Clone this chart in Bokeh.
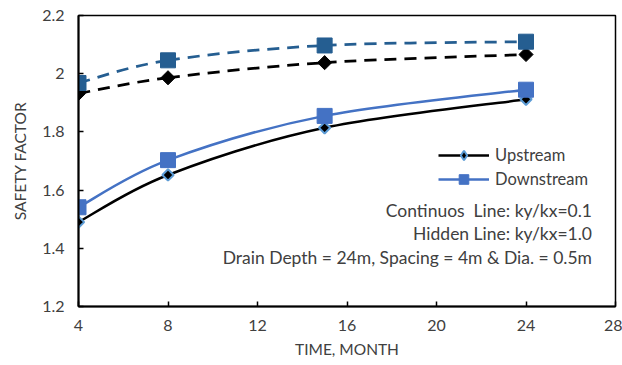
import numpy as np
from bokeh.plotting import figure
from bokeh.models import (Range1d, FixedTicker, NumeralTickFormatter, Legend,
                          LegendItem, Label, ColumnDataSource)
from bokeh.embed import file_html
from bokeh.resources import INLINE

# ---- data ----
months = [4, 8, 15, 24]
up_continuous = [1.490, 1.652, 1.814, 1.912]
down_continuous = [1.541, 1.703, 1.855, 1.945]
up_hidden = [1.932, 1.986, 2.038, 2.066]
down_hidden = [1.968, 2.046, 2.097, 2.110]
x_ticks = [4, 8, 12, 16, 20, 24, 28]
y_ticks = [1.2, 1.4, 1.6, 1.8, 2.0, 2.2]
legend_labels = ["Upstream", "Downstream"]
notes = ["Continuos\u00a0 Line: ky/kx=0.1",
         "Hidden Line: ky/kx=1.0",
         "Drain Depth = 24m, Spacing = 4m & Dia. = 0.5m"]

FONT = "Lato"
TXT = "#404040"

BLACK = "#000000"
BLUE = "#4472C4"
LIGHTBLUE = "#5B9BD5"
DARKBLUE = "#255E91"
ROT = np.pi / 4


def smooth_segments(xs, ys):
    """Bezier control points (Catmull-Rom style) derived from the data points."""
    x = np.asarray(xs, float)
    y = np.asarray(ys, float)
    n = len(x)
    xp = np.concatenate([[x[0]], x, [x[-1]]])
    yp = np.concatenate([[y[0]], y, [y[-1]]])
    return dict(
        x0=x[:-1], y0=y[:-1], x1=x[1:], y1=y[1:],
        cx0=x[:-1] + (xp[2:n + 1] - xp[0:n - 1]) / 6.0,
        cy0=y[:-1] + (yp[2:n + 1] - yp[0:n - 1]) / 6.0,
        cx1=x[1:] - (xp[3:n + 2] - xp[1:n]) / 6.0,
        cy1=y[1:] - (yp[3:n + 2] - yp[1:n]) / 6.0,
    )


p = figure(width=622, height=365, output_backend="svg", toolbar_location=None,
           x_range=Range1d(4, 28), y_range=Range1d(1.2, 2.2),
           min_border_left=78, min_border_right=7, min_border_top=15,
           min_border_bottom=59)
p.background_fill_color = "white"
p.border_fill_color = "white"
p.outline_line_color = "black"
p.outline_line_width = 1.5
p.xgrid.visible = False
p.ygrid.visible = False

for ax in (p.xaxis[0], p.yaxis[0]):
    ax.axis_line_color = "black"
    ax.axis_line_width = 2
    ax.major_tick_line_color = "black"
    ax.major_tick_line_width = 1.5
    ax.major_tick_in = 5
    ax.major_tick_out = 0
    ax.minor_tick_line_color = None
    ax.major_label_text_font = FONT
    ax.major_label_text_font_size = "16px"
    ax.major_label_text_color = TXT
    ax.axis_label_text_font = FONT
    ax.axis_label_text_font_size = "15.5px"
    ax.axis_label_text_font_style = "normal"
    ax.axis_label_text_color = TXT

p.xaxis.ticker = FixedTicker(ticks=x_ticks)
p.yaxis.ticker = FixedTicker(ticks=y_ticks)
p.yaxis.formatter = NumeralTickFormatter(format="0.[0]")
p.xaxis.axis_label = "TIME, MONTH"
p.yaxis.axis_label = "SAFETY FACTOR"
p.xaxis.major_label_standoff = 13
p.yaxis.major_label_standoff = 14
p.xaxis.axis_label_standoff = 6
p.yaxis.axis_label_standoff = 10

# hidden (dashed) lines
p.bezier(source=ColumnDataSource(smooth_segments(months, up_hidden)),
         x0="x0", y0="y0", x1="x1", y1="y1", cx0="cx0", cy0="cy0", cx1="cx1", cy1="cy1",
         line_color=BLACK, line_width=2.75, line_dash="12 8")
p.bezier(source=ColumnDataSource(smooth_segments(months, down_hidden)),
         x0="x0", y0="y0", x1="x1", y1="y1", cx0="cx0", cy0="cy0", cx1="cx1", cy1="cy1",
         line_color=DARKBLUE, line_width=2.75, line_dash="12 8")
p.scatter(months, up_hidden, marker="square", angle=ROT, size=10,
          fill_color=BLACK, line_color=BLACK)
p.scatter(months, down_hidden, marker="square", size=15,
          fill_color=DARKBLUE, line_color=DARKBLUE)

# continuous lines
p.bezier(source=ColumnDataSource(smooth_segments(months, up_continuous)),
         x0="x0", y0="y0", x1="x1", y1="y1", cx0="cx0", cy0="cy0", cx1="cx1", cy1="cy1",
         line_color=BLACK, line_width=2.5)
p.bezier(source=ColumnDataSource(smooth_segments(months, down_continuous)),
         x0="x0", y0="y0", x1="x1", y1="y1", cx0="cx0", cy0="cy0", cx1="cx1", cy1="cy1",
         line_color=BLUE, line_width=2.5)
p.scatter(months, up_continuous, marker="square", angle=ROT, size=8,
          fill_color=BLACK, line_color=LIGHTBLUE, line_width=2)
r_down_m = p.scatter(months, down_continuous, marker="square", size=15,
                     fill_color=BLUE, line_color=BLUE)

# legend key samples (a single NaN point, so nothing is drawn in the plot)
r_up_l = p.line(x=[np.nan], y=[np.nan], line_color=BLACK, line_width=2.5)
r_up_k = p.scatter(x=[np.nan], y=[np.nan], marker="diamond", fill_color=BLACK,
                   line_color=LIGHTBLUE, line_width=2)
r_down_l = p.line(x=[np.nan], y=[np.nan], line_color=BLUE, line_width=2.5)
legend = Legend(items=[LegendItem(label=legend_labels[0], renderers=[r_up_l, r_up_k]),
                       LegendItem(label=legend_labels[1], renderers=[r_down_l, r_down_m])],
                location=(360, 115), glyph_width=51, glyph_height=24, spacing=0,
                padding=0, margin=0, label_standoff=6,
                label_text_font=FONT, label_text_font_size="16.5px",
                label_text_color=TXT, border_line_color=None,
                background_fill_alpha=0)
p.add_layout(legend)

# notes
for txt, yy in zip(notes, [1.531, 1.452, 1.369]):
    p.add_layout(Label(x=26.95, y=yy, text=txt, text_align="right",
                       text_baseline="middle", text_font=FONT,
                       text_font_size="17.5px", text_color=TXT))

open("out.html", "w").write(file_html(p, INLINE))
